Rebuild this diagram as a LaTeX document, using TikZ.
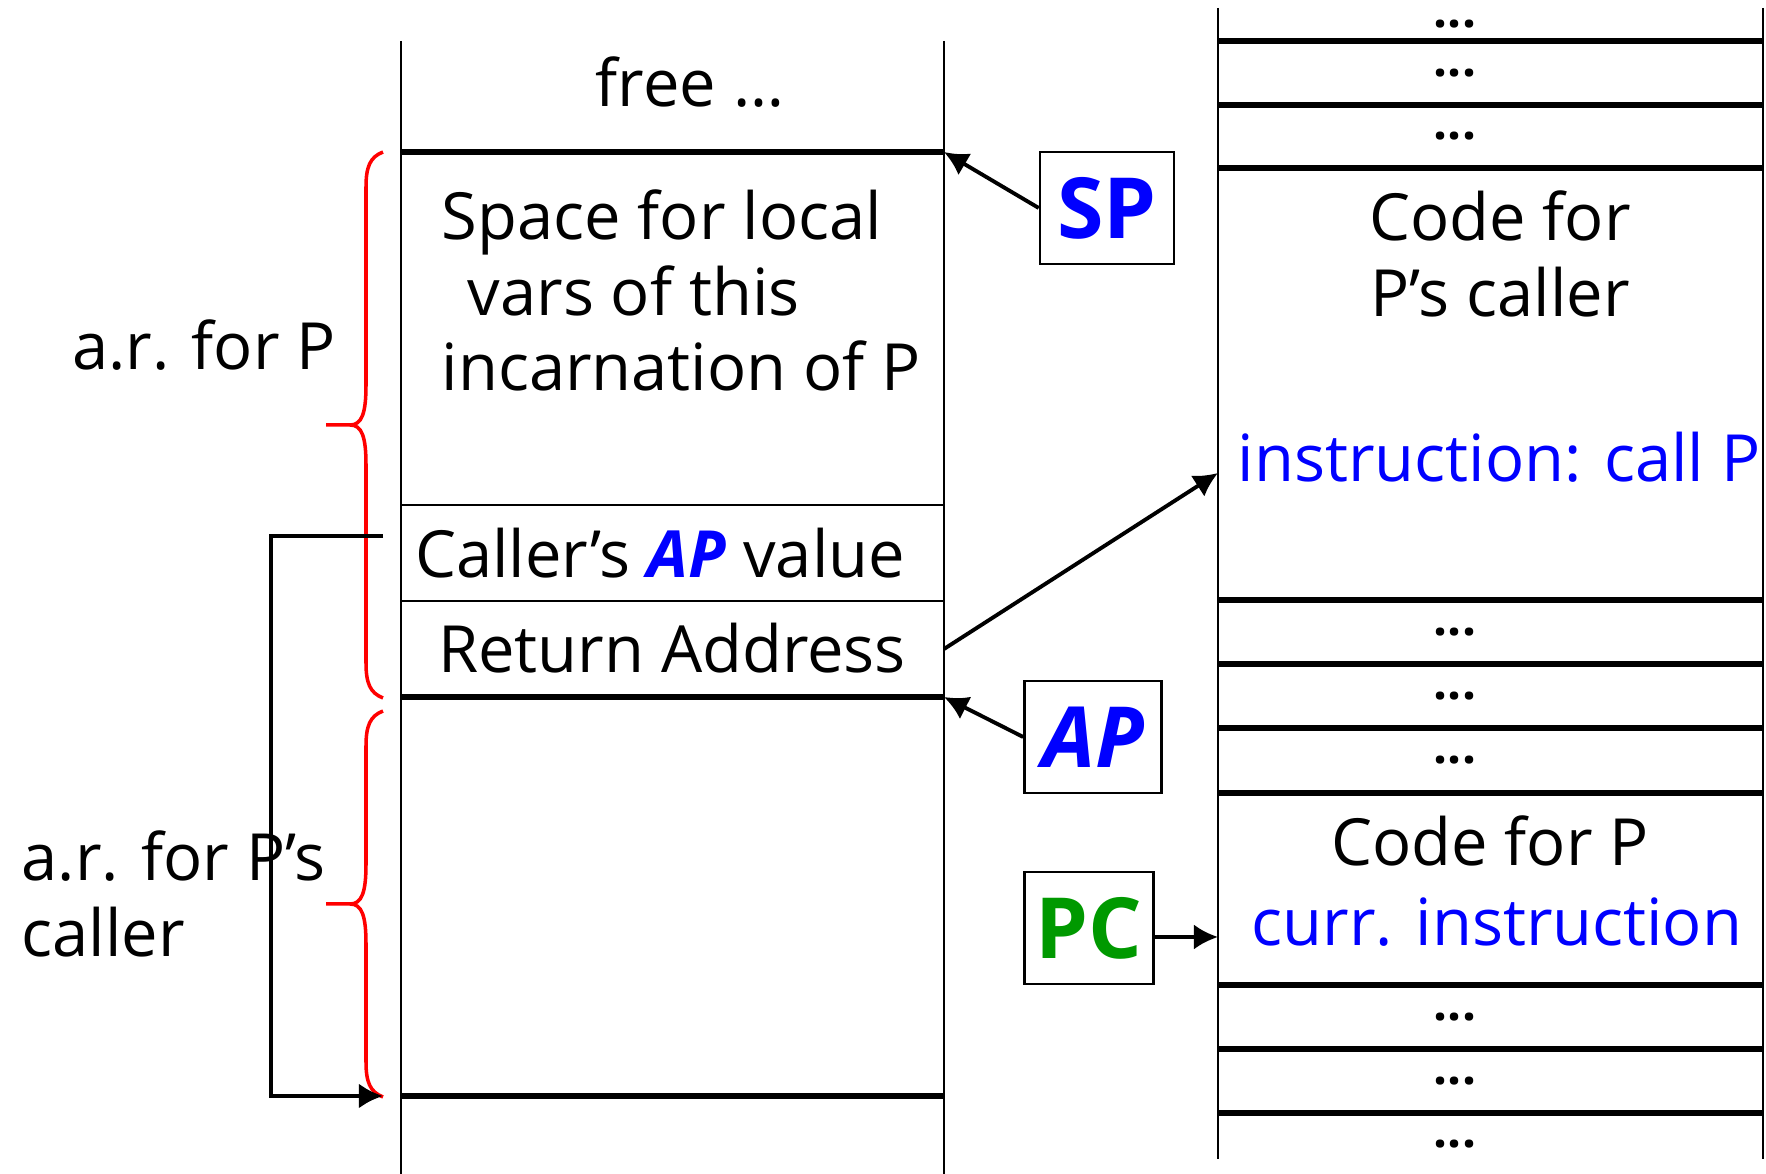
\documentclass[tikz,border=0pt]{standalone}
\usepackage{fontspec}
\setmainfont{Open Sans}
\usetikzlibrary{arrows.meta}
\definecolor{regblue}{RGB}{0,0,255}
\definecolor{regred}{RGB}{255,0,0}
\definecolor{pcgreen}{RGB}{0,153,0}
\begin{document}
\begin{tikzpicture}[x=0.01cm, y=-0.01cm,
  every node/.style={font=\fontsize{18.5}{21.5}\selectfont, inner sep=0pt},
  >={Latex[length=0.24cm,width=0.25cm]},
  wall/.style={line width=0.8pt},
  frame/.style={line width=1.8pt},
  cellsep/.style={line width=0.7pt},
  regbox/.style={draw, line width=0.7pt, minimum height=1.12cm, font=\fontsize{24}{28}\selectfont\bfseries},
  pointer/.style={->, line width=1.1pt},
  arbrace/.style={regred, line width=1pt},
  dots/.style={font=\fontsize{14}{16}\selectfont\bfseries}]

\useasboundingbox (0,0) rectangle (1766,1174);

% the run-time stack
\draw[wall] (401,41) -- (401,1174);
\draw[wall] (944,41) -- (944,1174);
\draw[frame] (401,152) -- (944,152);
\draw[cellsep] (401,505) -- (944,505);
\draw[cellsep] (401,601) -- (944,601);
\draw[frame] (401,697) -- (944,697);
\draw[frame] (401,1096) -- (944,1096);

\node (free) at (690,82) {free …};
\node[anchor=north west, align=left] (locals) at (441,189)
  {Space for local\\\hspace*{0.4em}vars of this\\incarnation of P};
\node (oldap) at (660,553) {Caller’s \textcolor{regblue}{\bfseries\itshape AP} value};
\node (retaddr) at (672,648) {Return Address};

% activation records
\foreach \ta/\tb in {152/698, 711/1097} {
  \pgfmathsetmacro\tm{(\ta+\tb)/2}
  \draw[arbrace] (383,\ta) .. controls (370,\ta+5) and (366,\ta+15) .. (366,\ta+35)
    -- (366,\tm-40) .. controls (366,\tm-12) and (362,\tm) .. (350,\tm) -- (326,\tm)
    -- (350,\tm) .. controls (362,\tm) and (366,\tm+12) .. (366,\tm+40)
    -- (366,\tb-35) .. controls (366,\tb-15) and (370,\tb-5) .. (383,\tb);
}
\node (arp) at (204,345) {a.r. for P};
\node[anchor=north west, align=left] (arcaller) at (21,830) {a.r. for P’s\\caller};

% saved AP points at the caller's record
\coordinate (apslot) at (383,536);
\coordinate (apbase) at (383,1096);
\draw[pointer, line width=1.3pt] (apslot) -- ++(-112,0) |- (apbase);

% code memory
\draw[wall] (1218,8) -- (1218,1159);
\draw[wall] (1763,8) -- (1763,1159);
\foreach \y in {41,105,168,600,664,728,793,985,1049,1113}
  \draw[frame] (1218,\y) -- (1763,\y);
\foreach \y in {24,73,136,632,696,760,1017,1081,1144}
  \node[dots] at (1455,\y) {...};

\node[anchor=north, align=center] (callercode) at (1500,190) {Code for\\P’s caller};
\node[text=regblue] (callp) at (1499,457) {instruction: call P};
\node (pcode) at (1490,841) {Code for P};
\node[text=regblue] (currinstr) at (1497,922) {curr. instruction};

% registers
\node[regbox, minimum width=1.34cm, text=regblue] (sp) at (1107,208) {SP};
\node[regbox, minimum width=1.37cm, text=regblue, font=\fontsize{24}{28}\selectfont\bfseries\itshape] (ap) at (1093,737) {AP};
\node[regbox, minimum width=1.29cm, text=pcgreen] (pc) at (1089,928) {PC};

\coordinate (sptop) at (944,152);
\coordinate (aptop) at (944,697);
\coordinate (raslot) at (944,649);
\coordinate (callsite) at (1218,473);
\coordinate (pcin) at (1218,937);
\draw[pointer] (sp.west) -- (sptop);
\draw[pointer] (ap.west) -- (aptop);
\draw[pointer] (raslot) -- (callsite);
\draw[pointer] (pc.east |- pcin) -- (pcin);

\end{tikzpicture}
\end{document}
